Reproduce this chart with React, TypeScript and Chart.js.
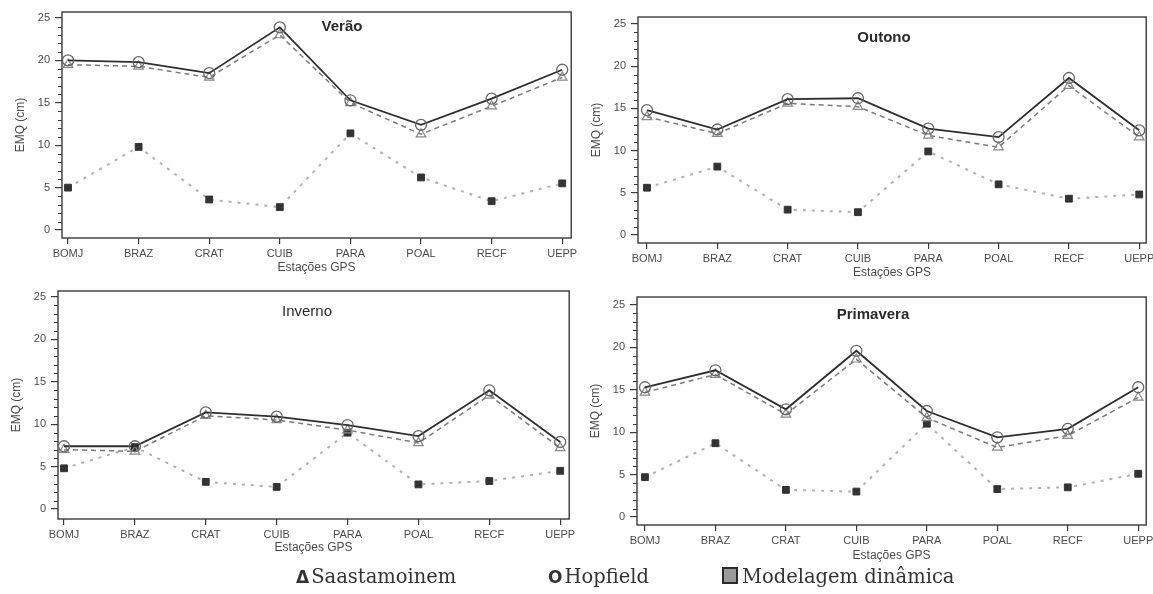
import React, { useEffect, useRef } from "react";
import { Chart, registerables } from "chart.js";

Chart.register(...registerables);

// ---------- data ----------
const stations = ["BOMJ", "BRAZ", "CRAT", "CUIB", "PARA", "POAL", "RECF", "UEPP"];
const yTickValues = [0, 5, 10, 15, 20, 25];

const veraoSaastamoinen = [19.5, 19.3, 18.0, 23.0, 15.0, 11.3, 14.6, 18.0];
const veraoHopfield = [20.0, 19.8, 18.5, 23.9, 15.3, 12.4, 15.5, 18.9];
const veraoModelagem = [5.0, 9.8, 3.6, 2.7, 11.4, 6.2, 3.4, 5.5];

const outonoSaastamoinen = [14.0, 12.0, 15.6, 15.2, 11.8, 10.4, 17.7, 11.6];
const outonoHopfield = [14.8, 12.5, 16.1, 16.2, 12.6, 11.6, 18.6, 12.4];
const outonoModelagem = [5.6, 8.1, 3.0, 2.7, 9.9, 6.0, 4.3, 4.8];

const invernoSaastamoinen = [7.0, 6.8, 11.0, 10.5, 9.3, 7.8, 13.4, 7.2];
const invernoHopfield = [7.4, 7.4, 11.4, 10.9, 9.9, 8.6, 14.0, 7.9];
const invernoModelagem = [4.8, 7.3, 3.2, 2.6, 9.0, 2.9, 3.3, 4.5];

const primaveraSaastamoinen = [14.7, 16.8, 12.1, 18.6, 11.7, 8.2, 9.6, 14.1];
const primaveraHopfield = [15.3, 17.3, 12.7, 19.6, 12.5, 9.4, 10.4, 15.3];
const primaveraModelagem = [4.7, 8.7, 3.2, 3.0, 11.0, 3.3, 3.5, 5.1];

const legendLabels = ["Saastamoinem", "Hopfield", "Modelagem dinâmica"];
const yAxisTitle = "EMQ (cm)";
const xAxisTitle = "Estações GPS";

// ---------- layout / style ----------
const AXIS_W = 62;
const PAD_T = 10;
const PAD_R = 6;
const XAXIS_H = 46;
const SANS = '"Liberation Sans", Arial, sans-serif';
const AX = "#3a3a3a";
const TXT = "#4a4a4a";

type Panel = {
  title: string;
  bold: boolean;
  saa: number[];
  hop: number[];
  mod: number[];
  box: { l: number; t: number; r: number; b: number };
  xMin: number;
  xMax: number;
  yMin: number;
  yMax: number;
  titleX: number;
  titleY: number;
  xTitleGap: number;
};

const panels: Panel[] = [
  {
    title: "Verão", bold: true,
    saa: veraoSaastamoinen, hop: veraoHopfield, mod: veraoModelagem,
    box: { l: 62, t: 12, r: 572, b: 238 },
    xMin: -0.085, xMax: 7.127, yMin: -0.94, yMax: 25.71,
    titleX: 342, titleY: 27, xTitleGap: 30,
  },
  {
    title: "Outono", bold: true,
    saa: outonoSaastamoinen, hop: outonoHopfield, mod: outonoModelagem,
    box: { l: 638, t: 17, r: 1147, b: 243 },
    xMin: -0.128, xMax: 7.099, yMin: -0.95, yMax: 25.83,
    titleX: 884, titleY: 38, xTitleGap: 30,
  },
  {
    title: "Inverno", bold: false,
    saa: invernoSaastamoinen, hop: invernoHopfield, mod: invernoModelagem,
    box: { l: 58, t: 291, r: 570, b: 519 },
    xMin: -0.085, xMax: 7.127, yMin: -1.18, yMax: 25.71,
    titleX: 307, titleY: 312, xTitleGap: 29,
  },
  {
    title: "Primavera", bold: true,
    saa: primaveraSaastamoinen, hop: primaveraHopfield, mod: primaveraModelagem,
    box: { l: 637, t: 297, r: 1147, b: 525 },
    xMin: -0.113, xMax: 7.113, yMin: -0.94, yMax: 25.94,
    titleX: 873, titleY: 315, xTitleGap: 31,
  },
];

const boxPlugin = {
  id: "boxFrame",
  beforeDatasetsDraw(chart: any) {
    const { ctx, chartArea: a } = chart;
    const y = chart.scales.y;
    ctx.save();
    ctx.strokeStyle = AX;
    ctx.lineWidth = 1.4;
    ctx.strokeRect(a.left, a.top, a.right - a.left, a.bottom - a.top);
    ctx.lineWidth = 1;
    for (let v = Math.ceil(y.min); v <= Math.floor(y.max); v++) {
      if (v % 5 === 0 || v < 0) continue;
      const py = Math.round(y.getPixelForValue(v)) + 0.5;
      ctx.beginPath();
      ctx.moveTo(a.left - 4, py);
      ctx.lineTo(a.left, py);
      ctx.stroke();
    }
    ctx.restore();
  },
};

function PanelChart({ p }: { p: Panel }) {
  const ref = useRef<HTMLCanvasElement>(null);
  const left = p.box.l - AXIS_W;
  const top = p.box.t - PAD_T;
  const width = p.box.r - p.box.l + AXIS_W + PAD_R;
  const height = p.box.b - p.box.t + PAD_T + XAXIS_H;

  useEffect(() => {
    const pts = (vals: number[]) => vals.map((v, i) => ({ x: i, y: v }));
    const titlePlugin = {
      id: "innerTitle",
      afterDraw(chart: any) {
        const ctx = chart.ctx;
        ctx.save();
        ctx.font = `${p.bold ? "bold " : ""}15px ${SANS}`;
        ctx.fillStyle = "#2a2a2a";
        ctx.textAlign = "center";
        ctx.textBaseline = "middle";
        ctx.fillText(p.title, p.titleX - left, p.titleY - top);
        ctx.restore();
      },
    };
    const xTitleFont = { family: SANS, size: 12 };
    const chart = new Chart(ref.current as HTMLCanvasElement, {
      type: "line",
      data: {
        datasets: [
          {
            label: legendLabels[1],
            data: pts(p.hop),
            order: 0,
            borderColor: "#2e2e2e",
            borderWidth: 1.8,
            pointStyle: "circle",
            pointRadius: 5.5,
            pointBorderColor: "#666",
            pointBackgroundColor: "rgba(255,255,255,0)",
            pointBorderWidth: 1.3,
            tension: 0,
          },
          {
            label: legendLabels[0],
            data: pts(p.saa),
            order: 1,
            borderColor: "#7a7a7a",
            borderWidth: 1.5,
            borderDash: [5, 4],
            pointStyle: "triangle",
            pointRadius: 5.5,
            pointBorderColor: "#888",
            pointBackgroundColor: "rgba(255,255,255,0)",
            pointBorderWidth: 1.2,
            tension: 0,
          },
          {
            label: legendLabels[2],
            data: pts(p.mod),
            order: 2,
            borderColor: "#b0b0b0",
            borderWidth: 2,
            borderDash: [3, 6],
            pointStyle: "rect",
            pointRadius: 4.8,
            pointBorderColor: "#333",
            pointBackgroundColor: "#333",
            pointBorderWidth: 1,
            tension: 0,
          },
        ],
      },
      options: {
        responsive: false,
        animation: false,
        devicePixelRatio: 1,
        layout: { padding: { left: 0, top: PAD_T, right: PAD_R, bottom: 0 } },
        plugins: {
          legend: { display: false },
          tooltip: { enabled: false },
          title: { display: false },
        },
        scales: {
          x: {
            type: "linear",
            min: p.xMin,
            max: p.xMax,
            afterBuildTicks: (s: any) => {
              s.ticks = stations.map((_, i) => ({ value: i }));
            },
            afterFit: (s: any) => {
              s.height = XAXIS_H;
              s.paddingLeft = 0;
              s.paddingRight = 0;
            },
            ticks: {
              autoSkip: false,
              maxRotation: 0,
              minRotation: 0,
              padding: 3,
              color: TXT,
              font: { family: SANS, size: 11 },
              callback: (v: any) => stations[v] ?? "",
            },
            grid: {
              display: true,
              drawOnChartArea: false,
              drawTicks: true,
              tickLength: 6,
              color: AX,
              tickColor: AX,
              lineWidth: 1.2,
            },
            border: { display: false },
            title: {
              display: true,
              text: xAxisTitle,
              color: TXT,
              font: xTitleFont,
              padding: { top: 0, bottom: XAXIS_H - p.xTitleGap - 7.2 },
            },
          },
          y: {
            type: "linear",
            min: p.yMin,
            max: p.yMax,
            afterBuildTicks: (s: any) => {
              s.ticks = yTickValues.map((v) => ({ value: v }));
            },
            afterFit: (s: any) => {
              s.width = AXIS_W;
              s.paddingTop = 0;
              s.paddingBottom = 0;
            },
            ticks: {
              padding: 5,
              color: TXT,
              font: { family: SANS, size: 11 },
              callback: (v: any) => String(v),
            },
            grid: {
              display: true,
              drawOnChartArea: false,
              drawTicks: true,
              tickLength: 7,
              color: AX,
              tickColor: AX,
              lineWidth: 1.2,
            },
            border: { display: false },
            title: {
              display: true,
              text: yAxisTitle,
              color: TXT,
              font: { family: SANS, size: 12 },
              padding: { top: 13.8, bottom: 0 },
            },
          },
        },
      } as any,
      plugins: [boxPlugin, titlePlugin],
    });
    return () => chart.destroy();
  }, []);

  return (
    <canvas
      ref={ref}
      width={width}
      height={height}
      style={{ position: "absolute", left, top, width, height }}
    />
  );
}

function Legend() {
  const base: React.CSSProperties = {
    position: "absolute",
    top: 567,
    fontFamily: '"DejaVu Serif", serif',
    fontSize: 19.5,
    lineHeight: "20px",
    color: "#333",
    whiteSpace: "nowrap",
  };
  const sym: React.CSSProperties = {
    fontFamily: '"DejaVu Sans", sans-serif',
    fontWeight: "bold",
    fontSize: 17,
    marginRight: 2,
  };
  return (
    <>
      <div style={{ ...base, left: 296 }}>
        <span style={sym}>Δ</span>
        {legendLabels[0]}
      </div>
      <div style={{ ...base, left: 548 }}>
        <span style={sym}>O</span>
        {legendLabels[1]}
      </div>
      <div style={{ ...base, left: 722 }}>
        <span
          style={{
            display: "inline-block",
            width: 12,
            height: 13,
            background: "#9a9a9a",
            border: "2px solid #2a2a2a",
            marginRight: 4,
            verticalAlign: "-1px",
          }}
        />
        {legendLabels[2]}
      </div>
    </>
  );
}

export default function App() {
  return (
    <div style={{ position: "absolute", left: 0, top: 0, width: 1153, height: 594, background: "#fff", overflow: "hidden" }}>
      {panels.map((p) => (
        <PanelChart key={p.title} p={p} />
      ))}
      <Legend />
    </div>
  );
}
